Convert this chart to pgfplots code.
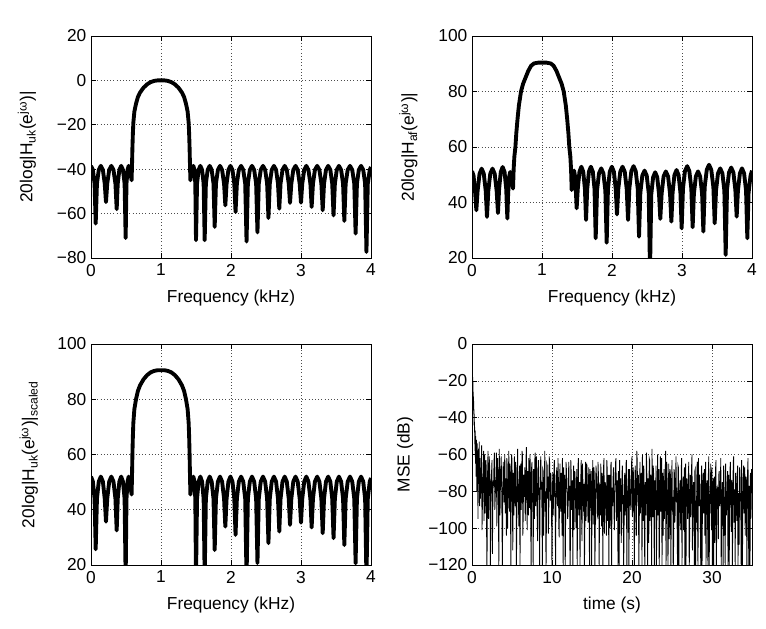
\documentclass[border=0pt]{standalone}
\usepackage{fontspec}
\setmainfont{Liberation Sans}
\usepackage{pgfplots}
\pgfplotsset{compat=1.18}
\usepackage{pgfplotstable}

\pgfplotstableread{
f uk uks
0.000 -38.5 52.0
0.027 -40.3 50.2
0.051 -46.5 44.0
0.067 -64.5 25.7
0.085 -46.5 44.0
0.111 -40.3 50.2
0.1405 -38.5 52.0
0.170 -40.3 50.2
0.196 -46.5 44.0
0.214 -54.8 35.7
0.232 -46.5 44.0
0.260 -40.3 50.2
0.2905 -38.5 52.0
0.321 -40.3 50.2
0.349 -46.5 44.0
0.367 -58.0 32.5
0.382 -46.5 44.0
0.405 -40.3 50.2
0.431 -38.5 52.0
0.457 -40.3 50.2
0.480 -46.5 44.0
0.495 -71.0 15.0
0.507 -46.5 44.0
0.522 -40.3 50.2
0.538 -38.5 52.0
0.553 -40.0 50.5
0.567 -42.5 48.0
0.580 -45.0 45.5
0.586 -38.0 52.5
0.592 -30.0 60.5
0.598 -24.0 66.5
0.605 -19.0 71.5
0.620 -14.0 76.5
0.643 -10.5 80.0
0.670 -7.5 83.0
0.700 -5.5 85.0
0.750 -3.3 87.2
0.800 -1.8 88.7
0.850 -0.8 89.7
0.900 -0.25 90.25
0.950 0.0 90.5
1.000 0.0 90.5
1.050 0.0 90.5
1.100 -0.25 90.25
1.150 -0.8 89.7
1.200 -1.8 88.7
1.250 -3.3 87.2
1.300 -5.5 85.0
1.330 -7.5 83.0
1.357 -10.5 80.0
1.380 -14.0 76.5
1.395 -19.0 71.5
1.402 -24.0 66.5
1.408 -30.0 60.5
1.414 -38.0 52.5
1.420 -45.0 45.5
1.433 -42.5 48.0
1.447 -40.0 50.5
1.462 -38.5 52.0
1.478 -40.3 50.2
1.490 -46.5 44.0
1.500 -72.0 15.0
1.515 -46.5 44.0
1.537 -40.3 50.2
1.562 -38.5 52.0
1.587 -40.3 50.2
1.609 -46.5 44.0
1.624 -72.0 15.0
1.641 -46.5 44.0
1.667 -40.3 50.2
1.696 -38.5 52.0
1.724 -40.3 50.2
1.750 -46.5 44.0
1.767 -66.0 25.4
1.785 -46.5 44.0
1.813 -40.3 50.2
1.843 -38.5 52.0
1.873 -40.3 50.2
1.901 -46.5 44.0
1.919 -56.3 33.9
1.937 -46.5 44.0
1.963 -40.3 50.2
1.992 -38.5 52.0
2.021 -40.3 50.2
2.047 -46.5 44.0
2.065 -59.3 30.9
2.084 -46.5 44.0
2.112 -40.3 50.2
2.144 -38.5 52.0
2.175 -40.3 50.2
2.203 -46.5 44.0
2.222 -72.6 15.0
2.241 -46.5 44.0
2.269 -40.3 50.2
2.300 -38.5 52.0
2.331 -40.3 50.2
2.359 -46.5 44.0
2.378 -68.5 20.7
2.397 -46.5 44.0
2.425 -40.3 50.2
2.457 -38.5 52.0
2.488 -40.3 50.2
2.516 -46.5 44.0
2.535 -62.0 27.9
2.554 -46.5 44.0
2.582 -40.3 50.2
2.613 -38.5 52.0
2.644 -40.3 50.2
2.671 -46.5 44.0
2.690 -57.8 32.1
2.708 -46.5 44.0
2.736 -40.3 50.2
2.767 -38.5 52.0
2.797 -40.3 50.2
2.825 -46.5 44.0
2.843 -55.2 34.5
2.862 -46.5 44.0
2.890 -40.3 50.2
2.922 -38.5 52.0
2.953 -40.3 50.2
2.981 -46.5 44.0
3.000 -55.1 35.3
3.018 -46.5 44.0
3.046 -40.3 50.2
3.076 -38.5 52.0
3.106 -40.3 50.2
3.134 -46.5 44.0
3.152 -57.0 33.6
3.171 -46.5 44.0
3.199 -40.3 50.2
3.231 -38.5 52.0
3.263 -40.3 50.2
3.291 -46.5 44.0
3.310 -58.5 31.5
3.329 -46.5 44.0
3.357 -40.3 50.2
3.388 -38.5 52.0
3.419 -40.3 50.2
3.446 -46.5 44.0
3.465 -60.8 29.7
3.484 -46.5 44.0
3.511 -40.3 50.2
3.542 -38.5 52.0
3.573 -40.3 50.2
3.601 -46.5 44.0
3.619 -63.3 27.2
3.638 -46.5 44.0
3.667 -40.3 50.2
3.700 -38.5 52.0
3.732 -40.3 50.2
3.761 -46.5 44.0
3.780 -69.0 20.6
3.799 -46.5 44.0
3.826 -40.3 50.2
3.858 -38.5 52.0
3.889 -40.3 50.2
3.916 -46.5 44.0
3.935 -77.3 15.0
3.954 -46.5 44.0
3.982 -40.3 50.2
4.000 -39.0 51.5
}\tabuk

\pgfplotstableread{
f af
0.000 51.3
0.022 49.7
0.045 43.5
0.062 37.2
0.080 44.2
0.108 50.4
0.138 52.2
0.168 50.4
0.196 44.2
0.214 34.8
0.233 44.2
0.261 50.4
0.2925 52.2
0.324 50.4
0.352 44.2
0.371 36.2
0.387 44.8
0.411 51.0
0.438 52.8
0.465 51.0
0.489 44.8
0.505 34.2
0.516 43.0
0.530 49.2
0.546 51.0
0.561 49.5
0.574 47.0
0.586 45.0
0.595 52.0
0.605 56.5
0.620 60.0
0.633 65.0
0.650 70.0
0.670 75.0
0.700 80.0
0.730 82.8
0.765 85.0
0.805 87.5
0.845 89.3
0.885 90.1
0.945 90.4
1.005 90.4
1.065 90.4
1.125 90.1
1.165 89.3
1.205 87.5
1.245 85.0
1.280 82.8
1.310 80.0
1.340 75.0
1.360 70.0
1.377 65.0
1.390 60.0
1.405 56.5
1.415 52.0
1.424 44.5
1.435 48.0
1.446 50.5
1.458 51.5
1.471 49.5
1.484 44.0
1.495 37.9
1.511 44.9
1.535 51.1
1.562 52.9
1.589 51.1
1.613 44.9
1.629 33.7
1.646 44.9
1.670 51.1
1.698 52.9
1.726 51.1
1.750 44.9
1.767 27.1
1.786 44.3
1.814 50.5
1.846 52.3
1.877 50.5
1.905 44.3
1.924 25.5
1.942 44.9
1.968 51.1
1.998 52.9
2.027 51.1
2.053 44.9
2.071 35.7
2.090 44.9
2.118 51.1
2.150 52.9
2.182 51.1
2.210 44.9
2.229 33.7
2.248 45.1
2.276 51.3
2.308 53.1
2.339 51.3
2.367 45.1
2.386 27.7
2.405 43.5
2.433 49.7
2.465 51.5
2.496 49.7
2.524 43.5
2.543 15.0
2.561 42.9
2.587 49.1
2.617 50.9
2.646 49.1
2.672 42.9
2.690 34.1
2.709 43.2
2.737 49.4
2.769 51.2
2.801 49.4
2.829 43.2
2.848 33.1
2.866 43.7
2.892 49.9
2.922 51.7
2.951 49.9
2.977 43.7
2.995 30.7
3.014 45.1
3.042 51.3
3.074 53.1
3.105 51.3
3.133 45.1
3.152 31.1
3.170 43.2
3.198 49.4
3.229 51.2
3.259 49.4
3.287 43.2
3.305 29.5
3.324 45.6
3.354 51.8
3.386 53.6
3.418 51.8
3.448 45.6
3.467 32.5
3.486 44.3
3.514 50.5
3.546 52.3
3.577 50.5
3.605 44.3
3.624 21.1
3.643 44.6
3.671 50.8
3.703 52.6
3.734 50.8
3.762 44.6
3.781 34.9
3.799 44.3
3.827 50.5
3.857 52.3
3.887 50.5
3.915 44.3
3.933 27.1
3.951 43.5
3.979 49.7
4.000 51.5
}\tabaf

\pgfplotstableread{
t mse
0.00 -4
0.02 -7
0.04 -16
0.06 -10
0.08 -22
0.10 -18
0.13 -30
0.16 -26
0.19 -36
0.22 -31
0.25 -44
0.28 -38
0.31 -48
0.34 -45
0.37 -58
0.40 -47
0.43 -65
0.46 -50
0.50 -72
0.55 -52
0.60 -80
0.65 -54
0.70 -68
0.75 -95
0.80 -57
0.85 -76
0.90 -53
0.95 -88
1.00 -62
1.05 -84
1.10 -78
1.15 -66
1.20 -55
1.25 -101
1.30 -88
1.35 -73
1.40 -70
1.45 -58
1.50 -96
1.55 -79
1.60 -60
1.65 -92
1.70 -81
1.75 -63
1.80 -74
1.85 -125
1.90 -108
1.95 -70
2.00 -58
2.05 -95
2.10 -85
2.15 -61
2.20 -66
2.25 -78
2.30 -125
2.35 -87
2.40 -72
2.45 -69
2.50 -63
2.55 -114
2.60 -90
2.65 -74
2.70 -77
2.75 -64
2.80 -59
2.85 -90
2.90 -84
2.95 -76
3.00 -71
3.05 -59
3.10 -99
3.15 -83
3.20 -62
3.25 -72
3.30 -80
3.35 -125
3.40 -57
3.45 -68
3.50 -93
3.55 -77
3.60 -68
3.65 -61
3.70 -75
3.75 -98
3.80 -125
3.85 -82
3.90 -64
3.95 -71
4.00 -86
4.05 -67
4.10 -60
4.15 -92
4.20 -73
4.25 -81
4.30 -104
4.35 -62
4.40 -66
4.45 -100
4.50 -82
4.55 -73
4.60 -58
4.65 -88
4.70 -91
4.75 -65
4.80 -70
4.85 -125
4.90 -79
4.95 -60
5.00 -63
5.05 -86
5.10 -112
5.15 -70
5.20 -75
5.25 -93
5.30 -61
5.35 -78
5.40 -88
5.45 -64
5.50 -69
5.55 -125
5.60 -97
5.65 -74
5.70 -57
5.75 -84
5.80 -83
5.85 -99
5.90 -72
5.95 -66
6.00 -125
6.05 -75
6.10 -65
6.15 -90
6.20 -79
6.25 -58
6.30 -60
6.35 -104
6.40 -94
6.45 -71
6.50 -74
6.55 -83
6.60 -67
6.65 -96
6.70 -86
6.75 -62
6.80 -56
6.85 -80
6.90 -101
6.95 -69
7.00 -76
7.05 -93
7.10 -62
7.15 -73
7.20 -89
7.25 -60
7.30 -71
7.35 -102
7.40 -125
7.45 -67
7.50 -64
7.55 -86
7.60 -81
7.65 -125
7.70 -68
7.75 -72
7.80 -95
7.85 -63
7.90 -59
7.95 -88
8.00 -84
8.05 -61
8.10 -73
8.15 -97
8.20 -107
8.25 -70
8.30 -63
8.35 -82
8.40 -78
8.45 -125
8.50 -90
8.55 -66
8.60 -61
8.65 -79
8.70 -75
8.75 -94
8.80 -125
8.85 -68
8.90 -69
8.95 -104
9.00 -87
9.05 -72
9.10 -58
9.15 -91
9.20 -80
9.25 -125
9.30 -99
9.35 -65
9.40 -66
9.45 -84
9.50 -72
9.55 -103
9.60 -92
9.65 -61
9.70 -64
9.75 -77
9.80 -85
9.85 -70
9.90 -77
9.95 -96
10.00 -125
10.05 -81
10.10 -70
10.15 -93
10.20 -83
10.25 -66
10.30 -63
10.35 -79
10.40 -96
10.45 -125
10.50 -78
10.55 -71
10.60 -67
10.65 -86
10.70 -88
10.75 -62
10.80 -74
10.85 -99
10.90 -105
10.95 -76
11.00 -65
11.05 -87
11.10 -91
11.15 -70
11.20 -79
11.25 -104
11.30 -62
11.35 -83
11.40 -125
11.45 -67
11.50 -84
11.55 -92
11.60 -71
11.65 -125
11.70 -98
11.75 -64
11.80 -68
11.85 -78
11.90 -81
11.95 -95
12.00 -93
12.05 -72
12.10 -64
12.15 -85
12.20 -77
12.25 -125
12.30 -110
12.35 -63
12.40 -70
12.45 -90
12.50 -86
12.55 -74
12.60 -125
12.65 -81
12.70 -66
12.75 -101
12.80 -82
12.85 -69
12.90 -74
12.95 -88
13.00 -100
13.05 -78
13.10 -68
13.15 -125
13.20 -89
13.25 -66
13.30 -62
13.35 -93
13.40 -80
13.45 -75
13.50 -125
13.55 -84
13.60 -73
13.65 -63
13.70 -94
13.75 -107
13.80 -65
13.85 -72
13.90 -85
13.95 -91
14.00 -76
14.05 -125
14.10 -103
14.15 -70
14.20 -64
14.25 -96
14.30 -87
14.35 -65
14.40 -72
14.45 -84
14.50 -97
14.55 -77
14.60 -67
14.65 -102
14.70 -125
14.75 -68
14.80 -79
14.85 -89
14.90 -69
14.95 -125
15.00 -90
15.05 -74
15.10 -63
15.15 -98
15.20 -84
15.25 -67
15.30 -75
15.35 -125
15.40 -108
15.45 -80
15.50 -66
15.55 -71
15.60 -81
15.65 -94
15.70 -93
15.75 -64
15.80 -70
15.85 -86
15.90 -125
15.95 -77
16.00 -78
16.05 -93
16.10 -65
16.15 -82
16.20 -99
16.25 -70
16.30 -72
16.35 -125
16.40 -86
16.45 -66
16.50 -62
16.55 -103
16.60 -91
16.65 -75
16.70 -77
16.75 -87
16.80 -104
16.85 -63
16.90 -68
16.95 -96
17.00 -83
17.05 -71
17.10 -125
17.15 -89
17.20 -71
17.25 -100
17.30 -95
17.35 -66
17.40 -64
17.45 -125
17.50 -80
17.55 -78
17.60 -88
17.65 -69
17.70 -67
17.75 -92
17.80 -101
17.85 -81
17.90 -75
17.95 -64
18.00 -62
18.05 -96
18.10 -92
18.15 -74
18.20 -79
18.25 -125
18.30 -69
18.35 -84
18.40 -125
18.45 -63
18.50 -85
18.55 -91
18.60 -73
18.65 -108
18.70 -97
18.75 -70
18.80 -66
18.85 -87
18.90 -82
18.95 -125
19.00 -106
19.05 -73
19.10 -70
19.15 -93
19.20 -87
19.25 -65
19.30 -63
19.35 -125
19.40 -94
19.45 -80
19.50 -76
19.55 -68
19.60 -125
19.65 -99
19.70 -68
19.75 -77
19.80 -84
19.85 -90
19.90 -78
19.95 -64
20.00 -61
20.05 -94
20.10 -89
20.15 -67
20.20 -74
20.25 -97
20.30 -125
20.35 -82
20.40 -66
20.45 -73
20.50 -93
20.55 -104
20.60 -58
20.65 -63
20.70 -80
20.75 -88
20.80 -71
20.85 -125
20.90 -102
20.95 -77
21.00 -64
21.05 -92
21.10 -85
21.15 -70
21.20 -77
21.25 -125
21.30 -60
21.35 -85
21.40 -96
21.45 -66
21.50 -69
21.55 -101
21.60 -125
21.65 -75
21.70 -82
21.75 -93
21.80 -59
21.85 -68
21.90 -90
21.95 -125
22.00 -73
22.05 -86
22.10 -108
22.15 -62
22.20 -63
22.25 -96
22.30 -87
22.35 -71
22.40 -75
22.45 -125
22.50 -57
22.55 -80
22.60 -94
22.65 -66
22.70 -70
22.75 -103
22.80 -125
22.85 -74
22.90 -81
22.95 -90
23.00 -66
23.05 -125
23.10 -98
23.15 -77
23.20 -60
23.25 -93
23.30 -84
23.35 -68
23.40 -125
23.45 -99
23.50 -72
23.55 -61
23.60 -91
23.65 -86
23.70 -62
23.75 -125
23.80 -79
23.85 -70
23.90 -104
23.95 -82
24.00 -68
24.05 -95
24.10 -86
24.15 -72
24.20 -58
24.25 -125
24.30 -93
24.35 -64
24.40 -76
24.45 -89
24.50 -125
24.55 -78
24.60 -65
24.65 -106
24.70 -88
24.75 -68
24.80 -71
24.85 -125
24.90 -99
24.95 -74
25.00 -63
25.05 -91
25.10 -83
25.15 -125
25.20 -110
25.25 -68
25.30 -70
25.35 -97
25.40 -92
25.45 -74
25.50 -61
25.55 -86
25.60 -78
25.65 -104
25.70 -125
25.75 -66
25.80 -67
25.85 -125
25.90 -89
25.95 -80
26.00 -74
26.05 -92
26.10 -101
26.15 -69
26.20 -62
26.25 -125
26.30 -86
26.35 -79
26.40 -72
26.45 -101
26.50 -95
26.55 -67
26.60 -125
26.65 -88
26.70 -65
26.75 -125
26.80 -82
26.85 -73
26.90 -77
26.95 -95
27.00 -90
27.05 -70
27.10 -64
27.15 -125
27.20 -107
27.25 -83
27.30 -71
27.35 -94
27.40 -84
27.45 -66
27.50 -60
27.55 -112
27.60 -96
27.65 -78
27.70 -75
27.75 -89
27.80 -125
27.85 -69
27.90 -68
27.95 -125
28.00 -85
28.05 -97
28.10 -73
28.15 -64
28.20 -99
28.25 -125
28.30 -62
28.35 -80
28.40 -88
28.45 -71
28.50 -79
28.55 -103
28.60 -125
28.65 -85
28.70 -66
28.75 -125
28.80 -93
28.85 -75
28.90 -70
28.95 -92
29.00 -81
29.05 -68
29.10 -104
29.15 -93
29.20 -64
29.25 -125
29.30 -87
29.35 -76
29.40 -74
29.45 -98
29.50 -125
29.55 -69
29.60 -61
29.65 -125
29.70 -91
29.75 -84
29.80 -77
29.85 -65
29.90 -97
29.95 -101
30.00 -67
30.05 -125
30.10 -84
30.15 -73
30.20 -125
30.25 -90
30.30 -72
30.35 -108
30.40 -95
30.45 -67
30.50 -63
30.55 -125
30.60 -89
30.65 -79
30.70 -78
30.75 -94
30.80 -106
30.85 -71
30.90 -69
30.95 -88
31.00 -86
31.05 -74
31.10 -62
31.15 -125
31.20 -98
31.25 -81
31.30 -75
31.35 -92
31.40 -125
31.45 -66
31.50 -70
31.55 -104
31.60 -83
31.65 -125
31.70 -65
31.75 -76
31.80 -93
31.85 -87
31.90 -80
31.95 -69
32.00 -125
32.05 -95
32.10 -71
32.15 -125
32.20 -88
32.25 -68
32.30 -64
32.35 -83
32.40 -102
32.45 -74
32.50 -76
32.55 -125
32.60 -90
32.65 -65
32.70 -61
32.75 -97
32.80 -84
32.85 -79
32.90 -125
32.95 -70
33.00 -73
33.05 -89
33.10 -96
33.15 -72
33.20 -66
33.25 -125
33.30 -81
33.35 -94
33.40 -109
33.45 -67
33.50 -69
33.55 -83
33.60 -87
33.65 -125
33.70 -63
33.75 -75
33.80 -125
33.85 -91
33.90 -78
33.95 -66
34.00 -92
34.05 -80
34.10 -67
34.15 -104
34.20 -85
34.25 -72
34.30 -74
34.35 -125
34.40 -100
34.45 -69
34.50 -62
34.55 -90
34.60 -125
34.65 -77
34.70 -80
34.75 -125
34.80 -70
34.85 -95
34.90 -88
34.95 -68
35.00 -76
}\tabmse

\pgfplotsset{
  myax/.style={
    scale only axis,
    width=210pt,
    anchor=south west,
    tick align=inside,
    major tick length=3.5pt,
    grid=major,
    major grid style={dotted, black!70, line width=0.5pt},
    axis line style={line width=0.6pt},
    every tick/.style={black, line width=0.5pt},
    tick label style={font=\fontsize{13}{15}\selectfont},
    label style={font=\fontsize{13}{15}\selectfont},
    xlabel style={at={(axis description cs:0.5,-0.18)}, anchor=center},
    xticklabel style={yshift=-1pt},
  }
}

\begin{document}
\begin{tikzpicture}
\path (0,0) rectangle (574.5pt,471pt);

\begin{axis}[myax, at={(68.25pt,277.5pt)}, height=166.5pt,
  xmin=0, xmax=4, ymin=-80, ymax=20,
  xtick={0,1,2,3,4}, xticklabels={0,1,2,3,4},
  ytick={-80,-60,-40,-20,0,20}, yticklabels={−80,−60,−40,−20,0,20},
  xlabel={Frequency (kHz)},
  ylabel={20log|H\textsubscript{uk}(e\textsuperscript{jω})|},
  ylabel style={at={(axis description cs:-0.229,0.5)}, anchor=center}]
\addplot[black, line width=2.9pt, line join=round] table[x=f, y=uk] {\tabuk};
\end{axis}

\begin{axis}[myax, at={(354pt,277.5pt)}, height=166.5pt,
  xmin=0, xmax=4, ymin=20, ymax=100,
  xtick={0,1,2,3,4}, xticklabels={0,1,2,3,4},
  ytick={20,40,60,80,100}, yticklabels={20,40,60,80,100},
  xlabel={Frequency (kHz)},
  ylabel={20log|H\textsubscript{af}(e\textsuperscript{jω})|},
  ylabel style={at={(axis description cs:-0.227,0.5)}, anchor=center}]
\addplot[black, line width=2.9pt, line join=round] table[x=f, y=af] {\tabaf};
\end{axis}

\begin{axis}[myax, at={(68.25pt,47.25pt)}, height=165.75pt,
  xmin=0, xmax=4, ymin=20, ymax=100,
  xtick={0,1,2,3,4}, xticklabels={0,1,2,3,4},
  ytick={20,40,60,80,100}, yticklabels={20,40,60,80,100},
  xlabel={Frequency (kHz)},
  ylabel={20log|H\textsubscript{uk}(e\textsuperscript{jω})|\textsubscript{scaled}},
  ylabel style={at={(axis description cs:-0.222,0.5)}, anchor=center}]
\addplot[black, line width=2.9pt, line join=round] table[x=f, y=uks] {\tabuk};
\end{axis}

\begin{axis}[myax, at={(354pt,47.25pt)}, height=165.75pt,
  xmin=0, xmax=35, ymin=-120, ymax=0,
  xtick={0,10,20,30}, xticklabels={0,10,20,30},
  ytick={-120,-100,-80,-60,-40,-20,0}, yticklabels={−120,−100,−80,−60,−40,−20,0},
  xlabel={time (s)},
  ylabel={MSE (dB)},
  ylabel style={at={(axis description cs:-0.239,0.5)}, anchor=center}]
\addplot[black, line width=0.6pt] table[x=t, y=mse] {\tabmse};
\end{axis}
\end{tikzpicture}
\end{document}
